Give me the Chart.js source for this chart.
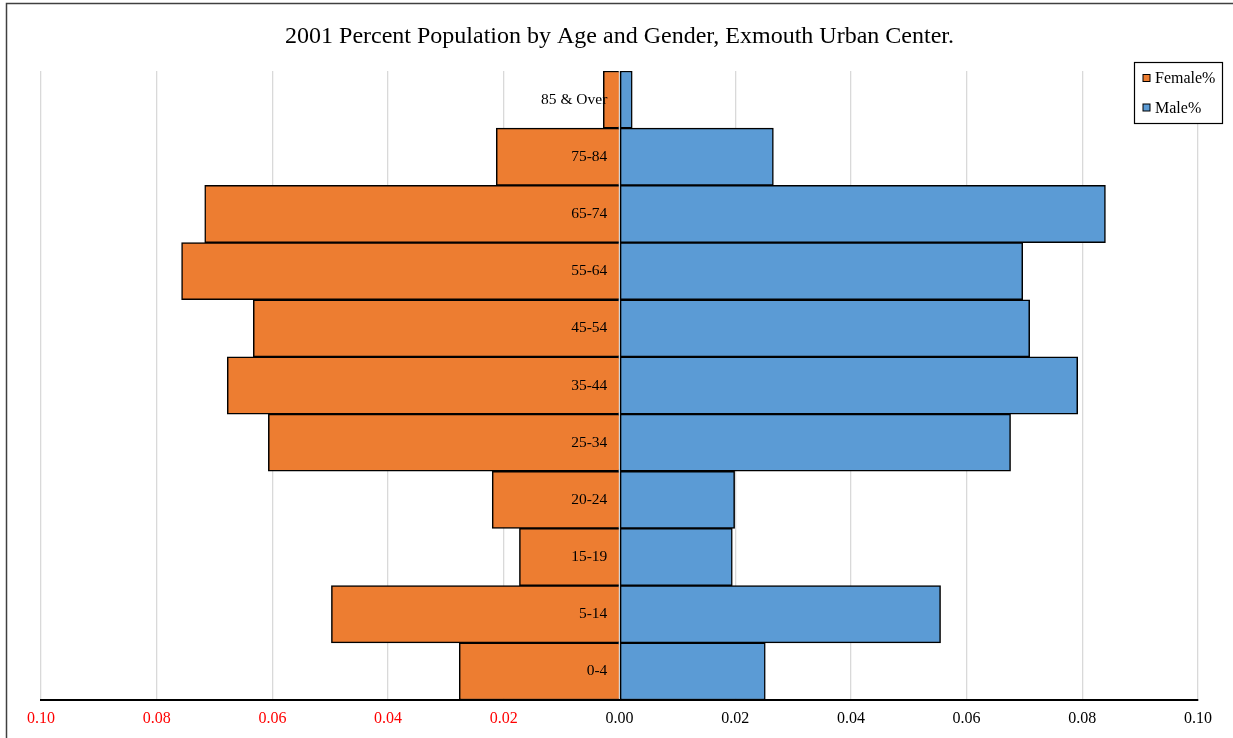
<!DOCTYPE html>
<html lang="en">
<head>
    <meta charset="UTF-8">
    <title>2001 Percent Population by Age and Gender, Exmouth Urban Center.</title>
    <script src="https://cdn.jsdelivr.net/npm/chart.js"></script>
    <style>
        html, body { margin: 0; padding: 0; background: #fff; }
        #wrap { width: 1233px; height: 738px; }
    </style>
</head>
<body>
    <div id="wrap"><canvas id="pyramid"></canvas></div>

    <script>
        // age groups, top to bottom
        const ageGroups = ['85 & Over', '75-84', '65-74', '55-64', '45-54', '35-44', '25-34', '20-24', '15-19', '5-14', '0-4'];
        // share of population (female drawn to the left as negative values)
        const femalePct = [0.0028, 0.0213, 0.0717, 0.0757, 0.0633, 0.0678, 0.0607, 0.0220, 0.0173, 0.0498, 0.0277];
        const malePct   = [0.0022, 0.0266, 0.0840, 0.0697, 0.0709, 0.0792, 0.0676, 0.0199, 0.0195, 0.0555, 0.0252];

        const serif = '"Liberation Serif", "Times New Roman", serif';

        // outer frame + legend box
        const framePlugin = {
            id: 'frame',
            afterDraw(chart) {
                const ctx = chart.ctx;
                ctx.save();
                ctx.strokeStyle = '#404040';
                ctx.lineWidth = 1.5;
                ctx.strokeRect(6.5, 3.5, 1400, 1400);

                // legend
                const x = 1134, y = 62, w = 88, h = 61;
                ctx.fillStyle = '#fff';
                ctx.fillRect(x, y, w, h);
                ctx.strokeStyle = '#000';
                ctx.lineWidth = 1.2;
                ctx.strokeRect(x + 0.5, y + 0.5, w, h);
                ctx.font = '16px ' + serif;
                ctx.textBaseline = 'middle';
                chart.data.datasets.forEach((ds, i) => {
                    const cy = 78 + i * 29.5;
                    ctx.fillStyle = ds.backgroundColor;
                    ctx.fillRect(1143, cy - 3.5, 7, 7);
                    ctx.strokeStyle = '#000';
                    ctx.lineWidth = 1;
                    ctx.strokeRect(1143, cy - 3.5, 7, 7);
                    ctx.fillStyle = '#000';
                    ctx.fillText(ds.label, 1155, cy + 1);
                });
                ctx.restore();
            }
        };

        const ctx = document.getElementById('pyramid').getContext('2d');
        new Chart(ctx, {
            type: 'bar',
            data: {
                labels: ageGroups,
                datasets: [
                    {
                        label: 'Female%',
                        data: femalePct.map(v => -v),
                        backgroundColor: '#ED7D31',
                        borderColor: '#000',
                        borderWidth: 1.5,
                        borderSkipped: 'start'
                    },
                    {
                        label: 'Male%',
                        data: malePct,
                        backgroundColor: '#5B9BD5',
                        borderColor: '#000',
                        borderWidth: 1.5,
                        borderSkipped: false
                    }
                ]
            },
            options: {
                indexAxis: 'y',
                responsive: true,
                maintainAspectRatio: false,
                animation: false,
                categoryPercentage: 1.0,
                barPercentage: 1.0,
                layout: { padding: { left: 41, right: 35, top: 0, bottom: 0 } },
                plugins: {
                    legend: { display: false },
                    tooltip: { enabled: false },
                    title: {
                        display: true,
                        text: '2001 Percent Population by Age and Gender, Exmouth Urban Center.',
                        color: '#000',
                        font: { family: serif, size: 24, weight: 'normal', lineHeight: 1.2 },
                        padding: { top: 22, bottom: 20.2 }
                    }
                },
                scales: {
                    x: {
                        stacked: true,
                        min: -0.1,
                        max: 0.1,
                        grid: { color: '#d9d9d9', lineWidth: 1.3, drawTicks: false },
                        border: { display: true, color: '#000', width: 2 },
                        ticks: {
                            stepSize: 0.02,
                            padding: 9,
                            font: { family: serif, size: 16 },
                            color: c => (c.tick && c.tick.value < -1e-9) ? '#ff0000' : '#000',
                            callback: v => Math.abs(v).toFixed(2)
                        },
                        afterFit: s => { s.height = 38; }
                    },
                    y: {
                        stacked: true,
                        // labels sit just left of the zero line
                        position: { x: -0.0021 },
                        grid: { display: false, drawTicks: false },
                        border: { display: false },
                        ticks: {
                            z: 1,
                            color: '#000',
                            font: { family: serif, size: 15.5 }
                        }
                    }
                }
            },
            plugins: [framePlugin]
        });
    </script>
</body>
</html>
